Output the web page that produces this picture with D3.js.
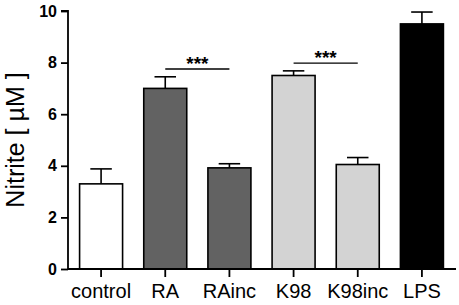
<!DOCTYPE html>
<html>
<head>
<meta charset="utf-8">
<style>
    body { margin: 0; background: #fff; }
    text { font-family: Arial, "Liberation Sans", sans-serif; }
</style>
</head>
<body>
<script src="https://d3js.org/d3.v7.min.js"></script>
<script>
    var groups = ["control", "RA", "RAinc", "K98", "K98inc", "LPS"];
    var means = [3.3, 7.0, 3.92, 7.5, 4.05, 9.5];
    var errors = [0.58, 0.45, 0.16, 0.18, 0.27, 0.46];
    var fills = ["#ffffff", "#626262", "#626262", "#d3d3d3", "#d3d3d3", "#000000"];
    var yTicks = [0, 2, 4, 6, 8, 10];
    // significance brackets: [from, to, height]
    var sigPairs = [["RA", "RAinc", 7.75], ["K98", "K98inc", 7.98]];
    var sigLabel = "***";

    const width = 459, height = 305;
    const mLeft = 68, mBottom = 269, mTop = 11;

    const svg = d3.select("body").append("svg")
        .attr("width", width)
        .attr("height", height);

    var x = d3.scaleBand().domain(groups).range([69, 454]).paddingInner(0.33).paddingOuter(0.165);
    var y = d3.scaleLinear().domain([0, 10]).range([mBottom, mTop]);

    // bars
    svg.selectAll("rect.bar")
        .data(groups)
        .enter()
        .append("rect")
        .attr("class", "bar")
        .attr("x", d => x(d))
        .attr("width", x.bandwidth())
        .attr("y", (d, i) => y(means[i]))
        .attr("height", (d, i) => y(0) - y(means[i]))
        .attr("fill", (d, i) => fills[i])
        .attr("stroke", "#000")
        .attr("stroke-width", 1.6);

    // error bars (upper only)
    var eb = svg.selectAll("g.err")
        .data(groups)
        .enter()
        .append("g")
        .attr("class", "err")
        .attr("stroke", "#000")
        .attr("stroke-width", 1.6);
    eb.append("line")
        .attr("x1", d => x(d) + x.bandwidth() / 2)
        .attr("x2", d => x(d) + x.bandwidth() / 2)
        .attr("y1", (d, i) => y(means[i]))
        .attr("y2", (d, i) => y(means[i] + errors[i]));
    eb.append("line")
        .attr("x1", d => x(d) + x.bandwidth() / 4)
        .attr("x2", d => x(d) + x.bandwidth() * 3 / 4)
        .attr("y1", (d, i) => y(means[i] + errors[i]))
        .attr("y2", (d, i) => y(means[i] + errors[i]));

    // y axis
    var yAxis = svg.append("g")
        .attr("transform", "translate(" + mLeft + ",0)")
        .call(d3.axisLeft(y).tickValues(yTicks).tickSize(7).tickPadding(4).tickFormat(d3.format("d")));
    yAxis.select(".domain").attr("d", "M-7," + mTop + "H0V" + mBottom).attr("stroke-width", 1.8);
    yAxis.selectAll(".tick line").attr("stroke-width", 1.8);
    yAxis.selectAll("text").attr("font-size", 16).attr("font-weight", "bold")
        .attr("font-family", "Arial, 'Liberation Sans', sans-serif").attr("fill", "#000");

    // x axis
    var xAxis = svg.append("g")
        .attr("transform", "translate(0," + mBottom + ")")
        .call(d3.axisBottom(x).tickSize(8).tickPadding(7));
    xAxis.select(".domain").attr("d", "M" + mLeft + ",0H456").attr("stroke-width", 1.8);
    xAxis.selectAll(".tick line").attr("stroke-width", 1.8);
    xAxis.selectAll("text").attr("font-size", 20)
        .attr("font-family", "Arial, 'Liberation Sans', sans-serif").attr("fill", "#000");

    // y label
    svg.append("text")
        .attr("transform", "translate(24," + y(5) + ") rotate(-90)")
        .attr("text-anchor", "middle")
        .attr("font-size", 25)
        .text("Nitrite [ µM ]");

    // significance
    var sig = svg.selectAll("g.sig")
        .data(sigPairs)
        .enter()
        .append("g")
        .attr("class", "sig");
    sig.append("line")
        .attr("x1", d => x(d[0]) + x.bandwidth() / 2)
        .attr("x2", d => x(d[1]) + x.bandwidth() / 2)
        .attr("y1", d => y(d[2]))
        .attr("y2", d => y(d[2]))
        .attr("stroke", "#000")
        .attr("stroke-width", 1.4);
    sig.append("text")
        .attr("x", d => (x(d[0]) + x(d[1])) / 2 + x.bandwidth() / 2)
        .attr("y", d => y(d[2]) + 1)
        .attr("text-anchor", "middle")
        .attr("font-size", 19)
        .attr("font-weight", "bold")
        .text(sigLabel);
</script>
</body>
</html>
